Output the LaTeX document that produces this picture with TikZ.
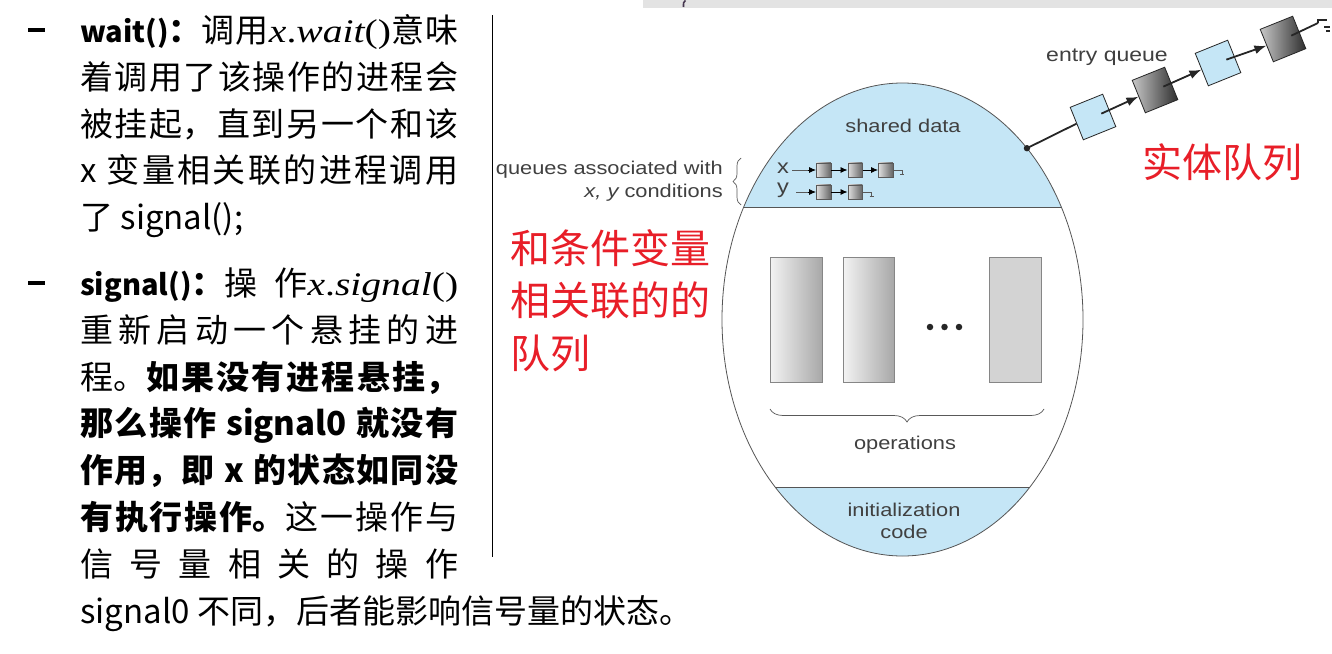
\documentclass[tikz,border=0pt]{standalone}
\usepackage{fontspec}
\usetikzlibrary{calc,arrows.meta,decorations.pathreplacing,shapes.geometric}
\newfontfamily\cjk{Noto Sans CJK SC}
\newfontfamily\diafont[FakeStretch=1.18]{Liberation Sans}
\newfontfamily\varfont[FakeStretch=1.2]{Liberation Serif}
\XeTeXlinebreaklocale "zh"
\XeTeXlinebreakskip=0pt plus 3pt minus 1pt
\newcommand\mvar[1]{{\varfont\itshape #1}}
\newcommand\mpar[1]{{\varfont #1}}
\newcommand\lat[1]{{\fontsize{29}{46.8}\selectfont #1}}
\definecolor{qblue}{RGB}{197,230,246}
\definecolor{qred}{RGB}{232,30,40}
\definecolor{dgray}{RGB}{64,64,64}
\definecolor{edgegray}{RGB}{85,85,85}
\definecolor{stripgray}{RGB}{227,227,227}
\definecolor{oplight}{RGB}{243,243,243}
\definecolor{opdark}{RGB}{168,168,168}
\definecolor{opflat}{RGB}{211,211,211}
\tikzset{
  body/.style={anchor=base west, text width=378pt, align=justify, inner sep=0pt,
    font=\cjk\fontsize{33}{46.8}\selectfont},
  bullet/.style={inner sep=0pt},
  redtext/.style={anchor=base west, inner sep=0pt, text=qred,
    font=\cjk\fontsize{40}{52.5}\selectfont},
  dtext/.style={font=\diafont\fontsize{18.5}{22}\selectfont, text=dgray, inner sep=0pt},
  opbox/.style={draw=opdark!80!black, line width=0.7pt, minimum height=125pt, inner sep=0pt},
  ebox/.style={draw=black!85, line width=0.8pt, minimum size=35pt, inner sep=0pt, rotate=22},
  lightbox/.style={ebox, fill=qblue},
  darkbox/.style={ebox, left color=black!22, right color=black!82},
  sbox/.style={draw=gray!70!black, line width=0.5pt, minimum size=14.5pt, inner sep=0pt,
    left color=black!12, right color=black!60},
  ptr/.style={line width=1.8pt, draw=black!85, -{Latex[length=12pt,width=9pt]}},
  qline/.style={line width=0.8pt, draw=gray!70!black},
  qptr/.style={qline, -{Latex[length=7pt,width=6pt]}, black},
  dotnode/.style={circle, fill=black!85, inner sep=0pt, minimum size=6.5pt},
  bracestyle/.style={draw=gray!70!black, line width=0.7pt, decorate},
}
\begin{document}
\begin{tikzpicture}[x=1pt, y=-1pt]
\useasboundingbox (0,0) rectangle (1332,653);
\fill[white] (0,0) rectangle (1332,653);

% strip along the top edge
\fill[stripgray] (643,0) rectangle (1332,7.5);
\draw[line width=1.6pt, color={rgb,255:red,70;green,55;blue,80}] (685.5,0.5) .. controls (683.5,2) .. (683.5,7);

% ---------- left column: explanation text ----------
\node[bullet] (dash1) at (36.5,30) {\rule{17pt}{3.2pt}};
\node[body] (waittxt) at (80,42.5) {%
\textbf{\lat{wait()}：}调用\mvar{x}\mpar{.}\mvar{wait}\mpar{()}意味\linebreak
着调用了该操作的进程会\linebreak
被挂起，直到另一个和该\linebreak
x 变量相关联的进程调用\linebreak
了 signal();};

\node[bullet] (dash2) at (36.5,283) {\rule{17pt}{3.2pt}};
\node[body] (signaltxt) at (80,295.5) {%
\textbf{\lat{signal()}：}操作\mvar{x}\mpar{.}\mvar{signal}\mpar{()}\linebreak
重新启动一个悬挂的进\linebreak
程。\textbf{如果没有进程悬挂，\linebreak
那么操作 signal0 就没有\linebreak
作用，即 x 的状态如同没\linebreak
有执行操作。}这一操作与\linebreak
信号量相关的操作\linebreak
\makebox[378pt][l]{signal0 不同，后者能影响信号量的状态。}};

% separator
\coordinate (septop) at (492.5,15);
\coordinate (sepbot) at (492.5,557);
\draw[line width=1.4pt] (septop) -- (sepbot);

% ---------- red annotations ----------
\node[redtext, text width=240pt, align=left] (condnote) at (510,263.2) {和条件变量\\相关联的的\\队列};
\node[redtext] (entrynote) at (1142,177.2) {实体队列};

% ---------- monitor ----------
\coordinate (C) at (902.5,319.5);
\begin{scope}
  \clip (C) ellipse [x radius=180.5, y radius=236.5];
  \fill[qblue] (700,60) rectangle (1100,207);
  \fill[qblue] (700,487) rectangle (1100,580);
  \draw[edgegray, line width=0.8pt] (700,207) -- (1100,207);
  \draw[edgegray, line width=0.8pt] (700,487) -- (1100,487);
\end{scope}
\node[ellipse, draw=edgegray, line width=0.8pt, minimum width=361pt, minimum height=473pt,
  inner sep=0pt, outer sep=0pt] (mon) at (C) {};

\node[dtext] (shared) at (903,126) {shared data};

% condition queues
\node[dtext, font=\diafont\fontsize{20}{22}\selectfont] (xl) at (783,168) {x};
\node[dtext, font=\diafont\fontsize{20}{22}\selectfont] (yl) at (783,190) {y};
\node[sbox] (xq1) at (823.5,170) {};
\node[sbox] (xq2) at (855,170) {};
\node[sbox] (xq3) at (885.5,170) {};
\node[sbox] (yq1) at (823.5,192) {};
\node[sbox] (yq2) at (855,192) {};
\draw[qline] (792,170) -- ([xshift=-6pt]xq1.west);
\draw[qptr] ([xshift=-8pt]xq1.west) -- (xq1.west);
\draw[qptr] (xq1.east) -- (xq2.west);
\draw[qptr] (xq2.east) -- (xq3.west);
\draw[qline] (xq3.east) -- ++(9,0) -- ++(0,3.5);
\draw[qline] ([xshift=7pt,yshift=-4.5pt]xq3.east) -- ++(4,0);
\draw[qline] (796,192) -- ([xshift=-6pt]yq1.west);
\draw[qptr] ([xshift=-8pt]yq1.west) -- (yq1.west);
\draw[qptr] (yq1.east) -- (yq2.west);
\draw[qline] (yq2.east) -- ++(9,0) -- ++(0,3.5);
\draw[qline] ([xshift=7pt,yshift=-4.5pt]yq2.east) -- ++(4,0);

\node[dtext, anchor=east] (qlab1) at (723,170) {queues associated with};
\node[dtext, anchor=east] (qlab2) at (723,193) {{\itshape x, y} conditions};
\coordinate (qbrb) at (741,205);
\coordinate (qbrt) at (741,158);
\draw[bracestyle, decoration={brace, amplitude=8pt}] (qbrb) -- (qbrt);

% operations
\node[opbox, minimum width=52pt, left color=oplight, right color=opdark] (op1) at (796,319.5) {};
\node[opbox, minimum width=51pt, left color=oplight, right color=opdark] (op2) at (868.5,319.5) {};
\node[opbox, minimum width=52pt, fill=opflat] (op3) at (1015,319.5) {};
\node[dotnode] (d1) at (930,327) {};
\node[dotnode] (d2) at (944.5,327) {};
\node[dotnode] (d3) at (959,327) {};
\coordinate (brr) at (1044,409);
\coordinate (brl) at (770,409);
\draw[bracestyle, decoration={brace, amplitude=13pt}] (brr) -- (brl);
\node[dtext] (opslabel) at (905,445) {operations};

\node[dtext, align=center, font=\diafont\fontsize{18.5}{22.5}\selectfont] (init) at (904,521) {initialization\\code};

% entry queue
\node[lightbox] (e1) at (1093,117) {};
\node[darkbox] (e2) at (1155,90) {};
\node[lightbox] (e3) at (1218,63) {};
\node[darkbox] (e4) at (1283,39) {};
\node[dtext, font=\diafont\fontsize{19.5}{22}\selectfont] (entrylabel) at (1107,57) {entry queue};

\fill[black!85] (mon.54) circle (3.2pt);
\draw[line width=1.8pt, black!85] (mon.54) -- (e1.west);
\draw[ptr] ($(e1.center)!0.5!(e1.east)$) -- (e2.west);
\draw[ptr] ($(e2.center)!0.5!(e2.east)$) -- (e3.west);
\draw[ptr] ($(e3.center)!0.5!(e3.east)$) -- (e4.west);
\coordinate (qend) at (1318,23);
\draw[line width=1.8pt, black!85] ($(e4.center)!0.5!(e4.east)$) -- (qend);
\draw[line width=1.2pt, black!85] (qend) -- ++(0,-3) -- ++(9,0);
\draw[line width=1.2pt, black!85] (1324,27) -- (1330,27);
\draw[line width=1.2pt, black!85] (1326,31) -- (1330,31);
\end{tikzpicture}
\end{document}
